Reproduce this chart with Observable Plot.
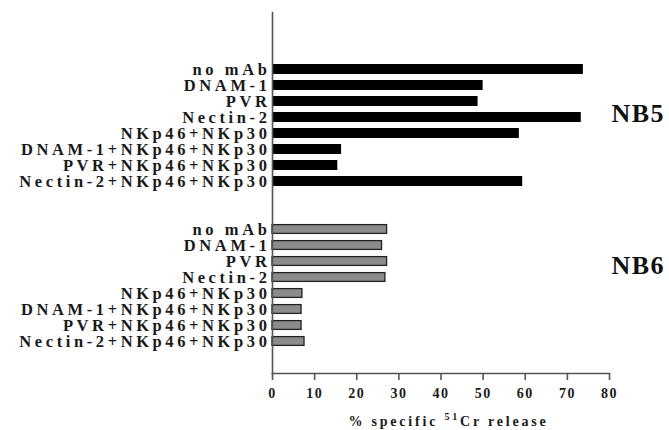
<!DOCTYPE html>
<html>
<head>
<meta charset="utf-8">
<script src="https://cdn.jsdelivr.net/npm/d3@7"></script>
<script src="https://cdn.jsdelivr.net/npm/@observablehq/plot@0.6"></script>
<style>
  html, body { margin: 0; padding: 0; background: #fff; }
  #chart { width: 669px; height: 430px; }
</style>
</head>
<body>
<div id="chart"></div>
<script>
// ---- data ----
const categories = ["no mAb", "DNAM-1", "PVR", "Nectin-2", "NKp46+NKp30",
  "DNAM-1+NKp46+NKp30", "PVR+NKp46+NKp30", "Nectin-2+NKp46+NKp30"];
const groups = ["NB5", "NB6"];
const nb5Values = [73.8, 50.0, 48.8, 73.3, 58.6, 16.4, 15.5, 59.4];
const nb6Values = [27.2, 26.0, 27.2, 26.8, 7.1, 6.9, 6.9, 7.6];
const xTicks = [0, 10, 20, 30, 40, 50, 60, 70, 80];
const gapRows = ["gap1", "gap2"];
const xLabelMain = "% specific ";
const xLabelSup = "51";
const xLabelRest = "Cr release";

// ---- table for Plot ----
const key = (g, c) => g + "|" + c;
const rows = [
  ...categories.map((c, i) => ({group: groups[0], cat: c, key: key(groups[0], c), value: nb5Values[i]})),
  ...categories.map((c, i) => ({group: groups[1], cat: c, key: key(groups[1], c), value: nb6Values[i]}))
];
const yDomain = [
  ...categories.map(c => key(groups[0], c)),
  ...gapRows,
  ...categories.map(c => key(groups[1], c))
];

const serif = "Liberation Serif, DejaVu Serif, serif";

const chart = Plot.plot({
  width: 669,
  height: 430,
  marginLeft: 272,
  marginRight: 60,
  marginTop: 12,
  marginBottom: 57,
  style: {fontFamily: serif, background: "#fff", color: "#111"},
  x: {domain: [0, 80]},
  y: {domain: yDomain, range: [57.6, 353.4], paddingInner: 0.36, paddingOuter: 0},
  marks: [
    Plot.barX(rows.filter(d => d.group === groups[0]), {x: "value", y: "key", fill: "#000"}),
    Plot.barX(rows.filter(d => d.group === groups[1]), {x: "value", y: "key", fill: "#8c8c8c", stroke: "#222", strokeWidth: 1.3, insetTop: 0.6, insetBottom: 0.6}),
    Plot.frame({anchor: "left", stroke: "#555", strokeWidth: 1.6}),
    Plot.frame({anchor: "bottom", stroke: "#555", strokeWidth: 1.6}),
    Plot.axisY({
      tickSize: 0, tickPadding: 2, label: null,
      tickFormat: d => d.startsWith("gap") ? "" : d.split("|")[1],
      fontSize: 16.5, fontWeight: "bold", fill: "#1a1a1a"
    }),
    Plot.axisX({
      ticks: xTicks, tickSize: 7, tickPadding: 8, label: null,
      stroke: "#555", strokeWidth: 1.6,
      fontSize: 14, fontWeight: "bold", fill: "#1a1a1a"
    }),
    Plot.text([groups[0]], {
      y: () => key(groups[0], categories[3]), text: d => d,
      frameAnchor: "right", textAnchor: "start", dx: 2, dy: -4,
      fontSize: 26, fontWeight: "bold", fill: "#111"
    }),
    Plot.text([groups[1]], {
      y: () => key(groups[1], categories[2]), text: d => d,
      frameAnchor: "right", textAnchor: "start", dx: 2, dy: 4,
      fontSize: 26, fontWeight: "bold", fill: "#111"
    })
  ]
});

document.getElementById("chart").append(chart);

// serif typeface and letter spacing like the reference's typeset labels
d3.select(chart).selectAll("text").attr("font-family", serif);
d3.select(chart).selectAll("[aria-label='y-axis tick label'] text").style("letter-spacing", "3.6px");
d3.select(chart).selectAll("[aria-label='x-axis tick label'] text").style("letter-spacing", "1.5px");
d3.select(chart).selectAll("[aria-label='text'] text").style("letter-spacing", "1.5px");

// x-axis title with superscript
const xs = chart.scale("x");
const t = d3.select(chart).append("text")
  .attr("x", xs.apply(40))
  .attr("dx", 8)
  .attr("y", 426)
  .attr("text-anchor", "middle")
  .attr("font-family", serif)
  .attr("font-weight", "bold")
  .attr("font-size", 14)
  .attr("fill", "#1a1a1a")
  .style("letter-spacing", "2.8px");
t.append("tspan").text(xLabelMain);
t.append("tspan").attr("font-size", 10).attr("dy", -6).text(xLabelSup);
t.append("tspan").attr("dy", 6).text(xLabelRest);
</script>
</body>
</html>
